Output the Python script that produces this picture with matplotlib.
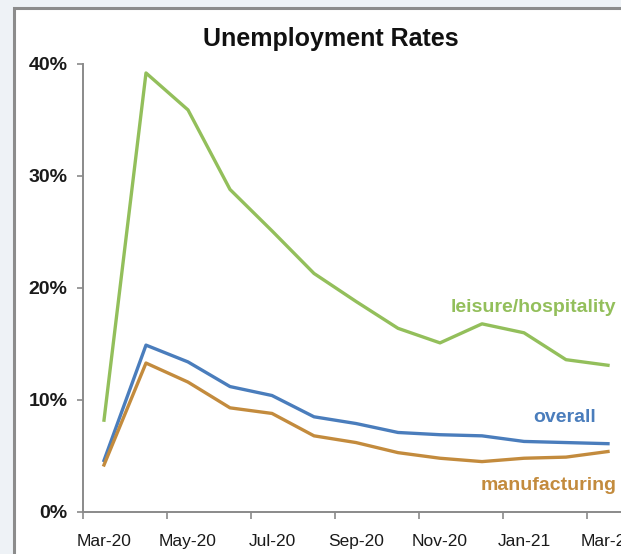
import matplotlib
matplotlib.use("Agg")
import matplotlib.pyplot as plt
from matplotlib.patches import Rectangle
from matplotlib.ticker import FixedLocator, FixedFormatter

# Monthly unemployment rates, Mar-20 .. Mar-21 (percent)
months = ["Mar-20", "Apr-20", "May-20", "Jun-20", "Jul-20", "Aug-20", "Sep-20",
          "Oct-20", "Nov-20", "Dec-20", "Jan-21", "Feb-21", "Mar-21"]
leisure = [8.2, 39.2, 35.9, 28.8, 25.1, 21.3, 18.8, 16.4, 15.1, 16.8, 16.0, 13.6, 13.1]
overall = [4.6, 14.9, 13.4, 11.2, 10.4, 8.5, 7.9, 7.1, 6.9, 6.8, 6.3, 6.2, 6.1]
manufacturing = [4.2, 13.3, 11.6, 9.3, 8.8, 6.8, 6.2, 5.3, 4.8, 4.5, 4.8, 4.9, 5.4]
y_ticks = [0, 10, 20, 30, 40]
y_labels = ["0%", "10%", "20%", "30%", "40%"]

GREEN = "#93bf5b"
BLUE = "#4a7dbc"
BROWN = "#c38b3d"
AXIS = "#8a8a8a"

W, H = 621, 554
fig = plt.figure(figsize=(W / 100, H / 100), dpi=100, facecolor="#eef2f6")

# white chart panel with a grey frame
fig.patches.append(Rectangle((14 / W, -0.2), 1.2, 1.2 - 8 / H, transform=fig.transFigure,
                             facecolor="white", edgecolor="#8c8c8c", lw=2.2, zorder=-10))

ax = fig.add_axes([83 / W, 42 / H, 546 / W, 448 / H])
ax.set_zorder(5)
ax.set_facecolor("none")

x = list(range(len(months)))
ax.plot(x, leisure, color=GREEN, lw=2.4, solid_joinstyle="round", clip_on=False)
ax.plot(x, overall, color=BLUE, lw=2.4, solid_joinstyle="round", clip_on=False)
ax.plot(x, manufacturing, color=BROWN, lw=2.4, solid_joinstyle="round", clip_on=False)

ax.set_xlim(-0.5, len(months) - 0.5)
ax.set_ylim(0, 40)

for s in ("top", "right"):
    ax.spines[s].set_visible(False)
for s in ("left", "bottom"):
    ax.spines[s].set_color(AXIS)
    ax.spines[s].set_linewidth(1.4)

ax.set_yticks(y_ticks)
ax.set_yticklabels(y_labels, fontsize=14, fontweight="bold", family="Liberation Sans", color="#1a1a1a")
ax.tick_params(axis="y", direction="out", length=4, width=1.2, color=AXIS, pad=7)

# tick marks between categories, labels on every other month
ax.xaxis.set_major_locator(FixedLocator([i - 0.5 for i in range(0, len(months), 2)]))
ax.xaxis.set_major_formatter(FixedFormatter([""] * 7))
ax.xaxis.set_minor_locator(FixedLocator(x[::2]))
ax.xaxis.set_minor_formatter(FixedFormatter(months[::2]))
ax.tick_params(axis="x", which="major", direction="out", length=5, width=1.2, color=AXIS)
ax.tick_params(axis="x", which="minor", length=0, pad=16, labelsize=12.5, labelcolor="#1a1a1a")
for lab in ax.xaxis.get_minorticklabels():
    lab.set_family("Liberation Sans")

ax.set_title("Unemployment Rates", fontsize=18, fontweight="bold", family="Liberation Sans",
             color="#111111", x=(331 - 83) / 546, y=1.0, pad=13)

lab_kw = dict(fontsize=14, fontweight="bold", family="Liberation Sans", ha="right", va="baseline")
ax.text(12.19, 17.86, "leisure/hospitality", color=GREEN, **lab_kw)
ax.text(11.71, 8.04, "overall", color=BLUE, **lab_kw)
ax.text(12.21, 1.96, "manufacturing", color=BROWN, **lab_kw)

fig.savefig("out.png", dpi=100, facecolor=fig.get_facecolor())
